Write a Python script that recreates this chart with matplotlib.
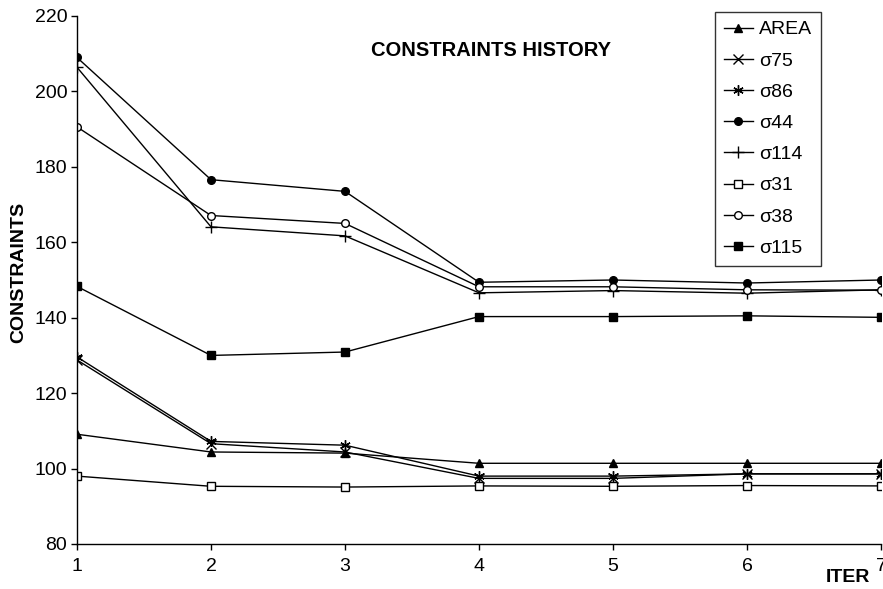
import numpy as np
import matplotlib.pyplot as plt

plt.rcParams['font.family'] = ['Liberation Sans', 'DejaVu Sans']

# ---- data ----
iters = [1, 2, 3, 4, 5, 6, 7]
area = [109.1, 104.4, 104.1, 101.4, 101.4, 101.4, 101.4]
s75 = [128.8, 106.6, 104.4, 97.4, 97.4, 98.6, 98.6]
s86 = [129.6, 107.2, 106.2, 98.0, 98.0, 98.6, 98.6]
s44 = [209.0, 176.6, 173.5, 149.4, 150.0, 149.2, 150.0]
s114 = [206.4, 164.1, 161.7, 146.6, 147.2, 146.5, 147.4]
s31 = [98.0, 95.3, 95.1, 95.4, 95.3, 95.5, 95.4]
s38 = [190.6, 167.1, 165.0, 148.2, 148.2, 147.4, 147.3]
s115 = [148.3, 130.0, 130.9, 140.3, 140.3, 140.5, 140.1]

series = [
    ("AREA", area, dict(marker='^', mfc='k')),
    ("σ75", s75, dict(marker='x', mfc='k', markersize=6.5)),
    ("σ86", s86, dict(marker=(6, 2, 0), mfc='k', markersize=7.5)),
    ("σ44", s44, dict(marker='o', mfc='k')),
    ("σ114", s114, dict(marker='+', mfc='k', markersize=8)),
    ("σ31", s31, dict(marker='s', mfc='white')),
    ("σ38", s38, dict(marker='o', mfc='white')),
    ("σ115", s115, dict(marker='s', mfc='k')),
]

fig = plt.figure(figsize=(8.83, 5.89), dpi=100)
ax = fig.add_axes([77 / 883, 1 - 544 / 589, (881 - 77) / 883, (544 - 16) / 589])

for name, vals, kw in series:
    style = dict(color='k', lw=1.0, markersize=5.5, mec='k', mew=1.0)
    style.update(kw)
    ax.plot(iters, vals, label=name, **style)

ax.set_xlim(1, 7)
ax.set_ylim(80, 220)
ax.set_xticks(iters)
ax.set_yticks(np.arange(80, 221, 20))
for s in ['top', 'right']:
    ax.spines[s].set_visible(False)
for s in ['left', 'bottom']:
    ax.spines[s].set_linewidth(1.0)
ax.tick_params(axis='both', direction='out', length=4, width=1.0, labelsize=14, colors='k', pad=3)
ax.tick_params(axis='x', pad=6)

fig.text(19 / 883, 1 - 272 / 589, "CONSTRAINTS", fontsize=14, fontweight='bold', rotation=90,
         ha='center', va='center')
fig.text(826 / 883, 1 - 578 / 589, "ITER", fontsize=14, fontweight='bold', va='center', ha='left')
fig.text(491 / 883, 1 - 50 / 589, "CONSTRAINTS HISTORY", fontsize=14.5, fontweight='bold',
         ha='center', va='center')

leg = ax.legend(loc='upper left', bbox_to_anchor=(715 / 883, 1 - 12 / 589), bbox_transform=fig.transFigure,
                fontsize=14, frameon=True, fancybox=False, edgecolor='k', handlelength=1.5,
                handletextpad=0.3, labelspacing=0.7, borderpad=0.45, borderaxespad=0)
leg.get_frame().set_linewidth(1.0)

plt.savefig("out.png", dpi=100)
